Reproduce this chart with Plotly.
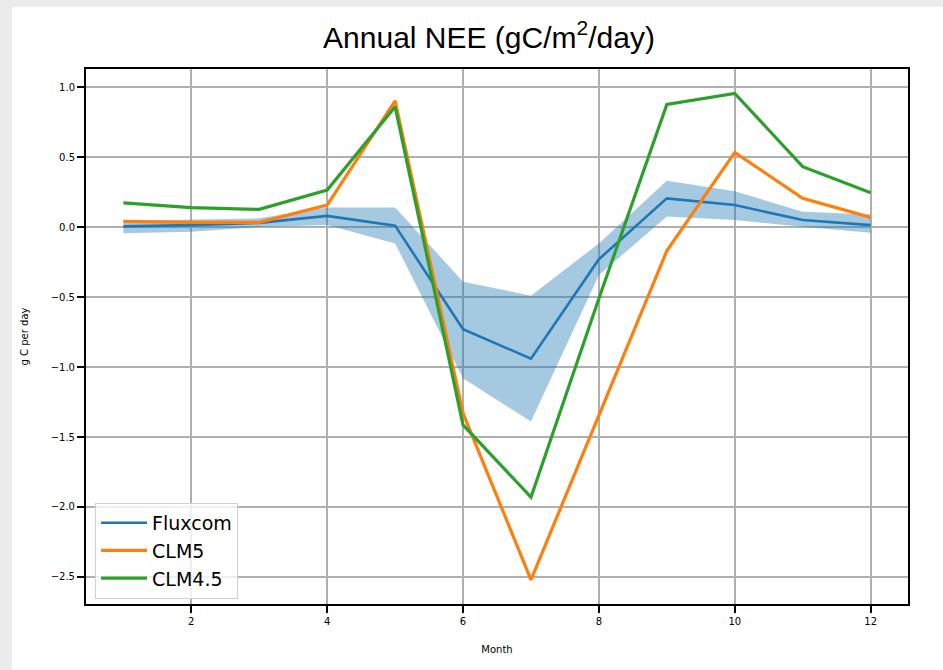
import plotly.graph_objects as go

# Monthly mean net ecosystem exchange (gC/m2/day)
months = [1, 2, 3, 4, 5, 6, 7, 8, 9, 10, 11, 12]
fluxcom = [0.005, 0.014, 0.03, 0.08, 0.01, -0.73, -0.94, -0.23, 0.205, 0.157, 0.05, 0.014]
fluxcom_upper = [0.045, 0.055, 0.062, 0.14, 0.14, -0.39, -0.49, -0.117, 0.33, 0.255, 0.11, 0.09]
fluxcom_lower = [-0.045, -0.033, 0.0, 0.014, -0.117, -1.08, -1.39, -0.343, 0.076, 0.05, 0.002, -0.04]
clm5 = [0.04, 0.033, 0.033, 0.157, 0.902, -1.33, -2.52, -1.35, -0.17, 0.533, 0.205, 0.069]
clm45 = [0.173, 0.138, 0.126, 0.264, 0.859, -1.414, -1.93, -0.51, 0.876, 0.955, 0.431, 0.245]

x_ticks = [2, 4, 6, 8, 10, 12]
y_ticks = [-2.5, -2.0, -1.5, -1.0, -0.5, 0.0, 0.5, 1.0]

BLUE = "#1f77b4"
ORANGE = "#ff7f0e"
GREEN = "#2ca02c"

fig = go.Figure()

# Fluxcom spread band
fig.add_trace(go.Scatter(x=months, y=fluxcom_lower, mode="lines",
                         line=dict(width=0, color=BLUE), showlegend=False,
                         hoverinfo="skip"))
fig.add_trace(go.Scatter(x=months, y=fluxcom_upper, mode="lines",
                         line=dict(width=0, color=BLUE), fill="tonexty",
                         fillcolor="rgba(31,119,180,0.4)", showlegend=False,
                         hoverinfo="skip"))

fig.add_trace(go.Scatter(x=months, y=fluxcom, mode="lines", name="Fluxcom",
                         line=dict(color=BLUE, width=2.6)))
fig.add_trace(go.Scatter(x=months, y=clm5, mode="lines", name="CLM5",
                         line=dict(color=ORANGE, width=3.2)))
fig.add_trace(go.Scatter(x=months, y=clm45, mode="lines", name="CLM4.5",
                         line=dict(color=GREEN, width=3.2)))

axis_common = dict(
    showgrid=True, gridcolor="#b0b0b0", gridwidth=2,
    showline=True, linecolor="black", linewidth=2, mirror=True,
    ticks="outside", ticklen=7, tickwidth=2, tickcolor="black",
    zeroline=False,
    tickfont=dict(family="DejaVu Sans", size=10, color="black"),
)

fig.update_xaxes(range=[0.45, 12.55], tickvals=x_ticks,
                 title=dict(text="Month", font=dict(family="DejaVu Sans", size=10, color="black"),
                            standoff=20),
                 **axis_common)
fig.update_yaxes(range=[-2.693, 1.129], tickvals=y_ticks, tickformat=".1f",
                 title=dict(text="g C per day", font=dict(family="DejaVu Sans", size=10, color="black"),
                            standoff=20),
                 **axis_common)

# white panel over the grey page background
fig.add_shape(type="rect", xref="paper", yref="paper",
              x0=-74 / 822, x1=1 + 35 / 822, y0=-66 / 535, y1=1 + 62 / 535,
              fillcolor="white", line=dict(width=0), layer="below")

fig.update_layout(
    width=943, height=670,
    margin=dict(l=86, r=35, t=69, b=66),
    paper_bgcolor="#ebebeb",
    plot_bgcolor="white",
    title=dict(text="Annual NEE (gC/m<sup>2</sup>/day)",
               font=dict(family="Liberation Sans, Arial", size=30, color="black"),
               x=489 / 943, xanchor="center", xref="container",
               y=1 - 37 / 670, yanchor="middle", yref="container"),
    legend=dict(x=0.011, y=0.189, xanchor="left", yanchor="top",
                traceorder="normal", itemwidth=46,
                bgcolor="rgba(255,255,255,0.8)", bordercolor="#d0d0d0", borderwidth=1,
                font=dict(family="DejaVu Sans", size=19, color="black")),
    showlegend=True,
)

fig.write_html("out.html")
